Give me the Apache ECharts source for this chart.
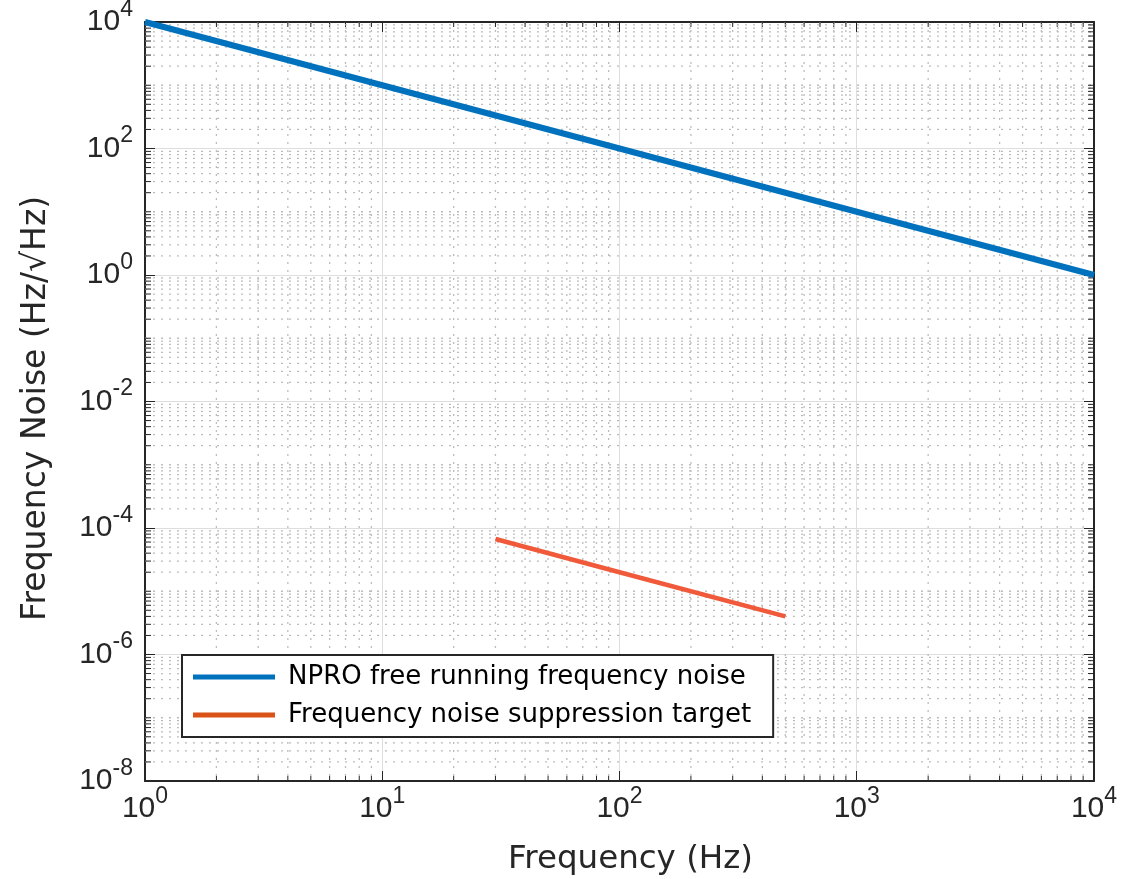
<!DOCTYPE html>
<html>
<head>
<meta charset="utf-8">
<script src="https://cdn.jsdelivr.net/npm/echarts@6.0.0/dist/echarts.min.js"></script>
<style>
html,body{margin:0;padding:0;background:#fff;}
#chart{width:1123px;height:879px;}
</style>
</head>
<body>
<div id="chart"></div>
<script>
// ---- data ----
const nproFreq = [1, 10, 100, 1000, 10000];
const nproNoise = [10000, 1000, 100, 10, 1];
const targetFreq = [30, 100, 500];
const targetNoise = [6.7e-5, 2.0e-5, 4.0e-6];
const xDecades = [0, 1, 2, 3, 4];            // tick exponents on x
const yDecades = [-8, -6, -4, -2, 0, 2, 4];  // labelled exponents on y
const seriesNames = ['NPRO free running frequency noise', 'Frequency noise suppression target'];

// ---- minor grid positions (2..9 x 10^k, plus unlabelled decades on y) ----
const xMinor = [];
for (let k = 0; k < 4; k++) for (let m = 2; m <= 9; m++) xMinor.push(m * Math.pow(10, k));
const yMinor = [];
for (let k = -8; k < 4; k++) {
  for (let m = 2; m <= 9; m++) yMinor.push(m * Math.pow(10, k));
  if (k % 2 !== 0) yMinor.push(Math.pow(10, k));
}

const AX = '#262626';
const tickFont = 'Liberation Sans';
const textFont = 'DejaVu Sans';

function expLabel(v) {
  const e = Math.round(Math.log10(v));
  return '{b|10}{s|' + e + '}';
}
const richLabel = {
  b: {fontFamily: tickFont, fontSize: 30, lineHeight: 30, color: AX, verticalAlign: 'bottom'},
  s: {fontFamily: tickFont, fontSize: 23, lineHeight: 23, color: AX, verticalAlign: 'bottom', padding: [0, 0, 16, 0]}
};

const chart = echarts.init(document.getElementById('chart'), null, {renderer: 'canvas'});

function minorGrid(params, api) {
  if (params.dataIndex !== 0) return;
  const p0 = api.coord([1, 1e-8]);
  const p1 = api.coord([1e4, 1e4]);
  const L = p0[0], B = p0[1], R = p1[0], T = p1[1];
  const children = [];
  const dot = {stroke: '#bcbcbc', lineWidth: 1.3, lineDash: [2, 6]};
  const tk = {stroke: AX, lineWidth: 1};
  xMinor.forEach(v => {
    const x = api.coord([v, 1])[0];
    children.push({type: 'line', shape: {x1: x, y1: T, x2: x, y2: B}, style: dot});
    children.push({type: 'line', shape: {x1: x, y1: B, x2: x, y2: B - 5}, style: tk});
    children.push({type: 'line', shape: {x1: x, y1: T, x2: x, y2: T + 5}, style: tk});
  });
  yMinor.forEach(v => {
    const y = api.coord([1, v])[1];
    children.push({type: 'line', shape: {x1: L, y1: y, x2: R, y2: y}, style: dot});
    children.push({type: 'line', shape: {x1: L, y1: y, x2: L + 6, y2: y}, style: tk});
    children.push({type: 'line', shape: {x1: R, y1: y, x2: R - 6, y2: y}, style: tk});
  });
  return {type: 'group', children: children, silent: true};
}

const baseX = {
  type: 'log', logBase: 10, min: 1, max: 1e4, interval: 1,
  axisLine: {show: true, onZero: false, lineStyle: {color: AX, width: 2}},
  axisTick: {show: true, inside: true, length: 10, lineStyle: {color: AX, width: 1}},
  minorTick: {show: false},
  splitLine: {show: false}
};
const baseY = {
  type: 'log', logBase: 10, min: 1e-8, max: 1e4, interval: 2,
  axisLine: {show: true, onZero: false, lineStyle: {color: AX, width: 2}},
  axisTick: {show: true, inside: true, length: 10, lineStyle: {color: AX, width: 1}},
  minorTick: {show: false},
  splitLine: {show: false}
};

const option = {
  animation: false,
  backgroundColor: '#fff',
  grid: {left: 145, top: 22, right: 29, bottom: 98, containLabel: false, outerBoundsMode: 'none'},
  xAxis: [
    Object.assign({}, baseX, {
      position: 'bottom',
      splitLine: {show: true, lineStyle: {color: '#dedede', width: 1}},
      axisLabel: {show: true, margin: 13, formatter: expLabel, rich: richLabel},
      name: 'Frequency (Hz)', nameLocation: 'middle', nameGap: 62,
      nameTextStyle: {fontFamily: textFont, fontSize: 32.5, color: AX, padding: [0, 0, 0, 22]}
    }),
    Object.assign({}, baseX, {position: 'top', axisLabel: {show: false}})
  ],
  yAxis: [
    Object.assign({}, baseY, {
      position: 'left',
      splitLine: {show: true, lineStyle: {color: '#dedede', width: 1}},
      axisLabel: {show: true, margin: 12, formatter: expLabel, rich: richLabel},
      name: 'Frequency Noise (Hz/√Hz)', nameLocation: 'middle', nameGap: 92,
      nameTextStyle: {fontFamily: textFont, fontSize: 33, color: AX, padding: [0, 14, 0, 0]}
    }),
    Object.assign({}, baseY, {position: 'right', axisLabel: {show: false}})
  ],
  legend: {
    show: true, orient: 'vertical', left: 182, top: 655,
    data: [
      {name: seriesNames[0], itemStyle: {color: '#0072BD'}},
      {name: seriesNames[1], itemStyle: {color: '#D95319'}}
    ],
    icon: 'rect', itemWidth: 82, itemHeight: 5, itemGap: 8,
    padding: [7, 22, 7, 11],
    backgroundColor: '#fff', borderColor: AX, borderWidth: 2,
    textStyle: {fontFamily: textFont, fontSize: 26, lineHeight: 30, color: '#000', padding: [0, 0, 0, 8]},
    selectedMode: false
  },
  series: [
    {
      type: 'custom', name: 'minor', coordinateSystem: 'cartesian2d', xAxisIndex: 0, yAxisIndex: 0,
      data: [[1, 1]], renderItem: minorGrid, silent: true, z: 1, clip: false
    },
    {
      type: 'line', name: seriesNames[0], xAxisIndex: 0, yAxisIndex: 0,
      data: nproFreq.map((f, i) => [f, nproNoise[i]]),
      showSymbol: false, symbol: 'none', z: 3,
      itemStyle: {color: '#0072BD'},
      lineStyle: {color: '#0072BD', width: 6}
    },
    {
      type: 'line', name: seriesNames[1], xAxisIndex: 0, yAxisIndex: 0,
      data: targetFreq.map((f, i) => [f, targetNoise[i]]),
      showSymbol: false, symbol: 'none', z: 3,
      itemStyle: {color: '#D95319'},
      lineStyle: {color: '#F05A3A', width: 4.5}
    }
  ]
};
chart.setOption(option);
</script>
</body>
</html>
